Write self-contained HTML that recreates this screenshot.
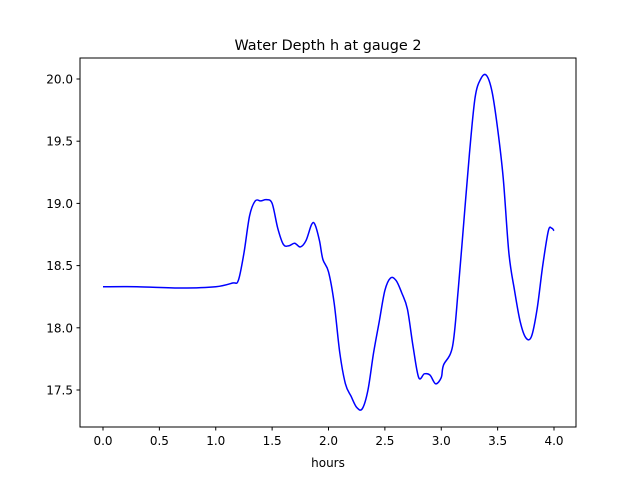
<!DOCTYPE html>
<html><head><meta charset="utf-8"><style>
body{margin:0;background:#fff;}
svg text{font-family:"DejaVu Sans","Liberation Sans",sans-serif;fill:#000;}
</style></head><body>
<svg id="chart" width="640" height="480" xmlns="http://www.w3.org/2000/svg">
<rect width="640" height="480" fill="#fff"/>
<text x="328" y="50" font-size="14.4" text-anchor="middle">Water Depth h at gauge 2</text>
<g id="axes"></g>
<rect x="80" y="58" width="496" height="369" fill="none" stroke="#000" stroke-width="1"/>
<text x="328" y="467" font-size="12" text-anchor="middle">hours</text>
</svg>
<script>
const hours=[0,0.3,0.7,1.0,1.15,1.2,1.25,1.3,1.35,1.4,1.45,1.5,1.55,1.6,1.65,1.7,1.75,1.8,1.85,1.88,1.92,1.95,2.0,2.05,2.1,2.15,2.2,2.25,2.3,2.35,2.4,2.45,2.5,2.55,2.6,2.65,2.7,2.75,2.8,2.85,2.9,2.95,3.0,3.02,3.1,3.15,3.2,3.25,3.3,3.35,3.4,3.45,3.5,3.55,3.6,3.65,3.7,3.75,3.8,3.85,3.9,3.95,3.98,4.0];
const depth=[18.33,18.33,18.32,18.33,18.36,18.38,18.6,18.9,19.02,19.02,19.03,19.0,18.8,18.67,18.66,18.68,18.65,18.7,18.83,18.83,18.7,18.55,18.45,18.2,17.8,17.55,17.45,17.36,17.35,17.5,17.8,18.05,18.3,18.4,18.38,18.28,18.15,17.85,17.6,17.63,17.62,17.55,17.6,17.7,17.85,18.3,18.85,19.4,19.85,20.0,20.03,19.9,19.6,19.2,18.6,18.3,18.05,17.92,17.93,18.15,18.5,18.78,18.8,18.78];
const xTicks=[0,0.5,1,1.5,2,2.5,3,3.5,4];
const xTickLabels=["0.0","0.5","1.0","1.5","2.0","2.5","3.0","3.5","4.0"];
const yTicks=[17.5,18,18.5,19,19.5,20];
const yTickLabels=["17.5","18.0","18.5","19.0","19.5","20.0"];
const X=v=>103+v*112.75;
const Y=v=>79+(20-v)*124.4;
const g=document.getElementById('axes');
const NS="http://www.w3.org/2000/svg";
function mk(t,a){const e=document.createElementNS(NS,t);for(const k in a)e.setAttribute(k,a[k]);g.appendChild(e);return e;}
xTicks.forEach((t,i)=>{
 const l=mk('line',{x1:X(t),x2:X(t),y1:427,y2:430.5,stroke:'#000'});
 
 
 const tx=mk('text',{x:X(t),y:445,'font-size':12,'text-anchor':'middle'});
 tx.textContent=xTickLabels[i];
 
 
});
yTicks.forEach((t,i)=>{
 const l=mk('line',{x1:76.5,x2:80,y1:Y(t),y2:Y(t),stroke:'#000'});
 
 
 const tx=mk('text',{x:73,y:Y(t)+4.5,'font-size':12,'text-anchor':'end'});
 tx.textContent=yTickLabels[i];
 
 
});
const pts=hours.map((h,i)=>[X(h),Y(depth[i])]);
let d='M'+pts[0][0]+','+pts[0][1];
for(let i=0;i<pts.length-1;i++){
 const p0=pts[Math.max(0,i-1)],p1=pts[i],p2=pts[i+1],p3=pts[Math.min(pts.length-1,i+2)];
 const c1=[p1[0]+(p2[0]-p0[0])/6,p1[1]+(p2[1]-p0[1])/6];
 const c2=[p2[0]-(p3[0]-p1[0])/6,p2[1]-(p3[1]-p1[1])/6];
 d+=' C'+c1+' '+c2+' '+p2;
}
const line=mk('path',{d:d,fill:'none',stroke:'#0000ff','stroke-width':1.5});


</script>
</body></html>
